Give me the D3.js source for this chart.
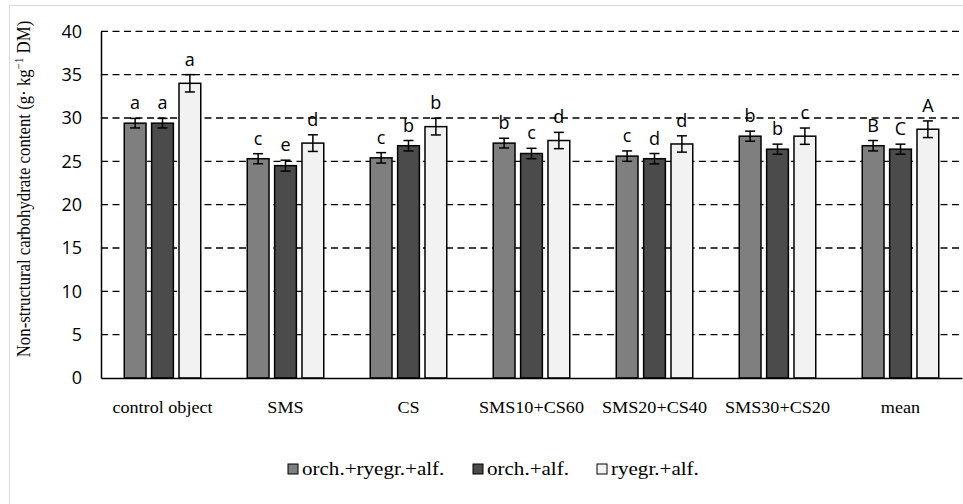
<!DOCTYPE html>
<html>
<head>
<meta charset="utf-8">
<script src="https://cdn.jsdelivr.net/npm/d3@7"></script>
<style>
  html, body { margin: 0; padding: 0; background: #fff; }
  svg { display: block; }
</style>
</head>
<body>
<svg id="chart" width="963" height="504"></svg>
<script>
// Treatments along the x axis
const categories = ["control object", "SMS", "CS", "SMS10+CS60", "SMS20+CS40", "SMS30+CS20", "mean"];
// Mixture names (legend)
const seriesNames = ["orch.+ryegr.+alf.", "orch.+alf.", "ryegr.+alf."];
// Mean non-structural carbohydrate content, g kg-1 DM
const orchRyegrAlf = [29.4, 25.3, 25.4, 27.1, 25.6, 27.9, 26.8];
const orchAlf      = [29.4, 24.5, 26.8, 25.9, 25.3, 26.4, 26.4];
const ryegrAlf     = [34.0, 27.1, 29.0, 27.4, 27.0, 27.9, 28.7];
// Error bar half-widths
const errOrchRyegrAlf = [0.55, 0.58, 0.6, 0.56, 0.6, 0.58, 0.6];
const errOrchAlf      = [0.55, 0.63, 0.6, 0.6, 0.6, 0.58, 0.58];
const errRyegrAlf     = [1.0, 0.96, 0.96, 0.94, 0.94, 0.94, 0.96];
// Significance letters
const lettersOrchRyegrAlf = ["a", "c", "c", "b", "c", "b", "B"];
const lettersOrchAlf      = ["a", "e", "b", "c", "d", "b", "C"];
const lettersRyegrAlf     = ["a", "d", "b", "d", "d", "c", "A"];
// Y axis ticks
const yTicks = [0, 5, 10, 15, 20, 25, 30, 35, 40];

const colors = ["#7f7f7f", "#4b4b4b", "#f2f2f2"];
const values = [orchRyegrAlf, orchAlf, ryegrAlf];
const errors = [errOrchRyegrAlf, errOrchAlf, errRyegrAlf];
const letters = [lettersOrchRyegrAlf, lettersOrchAlf, lettersRyegrAlf];

const svg = d3.select("#chart");

// outer chart frame
svg.append("rect")
  .attr("x", 9.5).attr("y", 5.5)
  .attr("width", 980).attr("height", 520)
  .attr("fill", "#fff").attr("stroke", "#d9d9d9").attr("stroke-width", 1);

const plot = { left: 101, right: 962, top: 31.3, bottom: 378 };

const y = d3.scaleLinear().domain([0, 40]).range([plot.bottom, plot.top]);
const x = d3.scaleBand().domain(categories)
  .range([plot.left, plot.right])
  .paddingInner(0.378).paddingOuter(0.189);
const xs = d3.scaleBand().domain(d3.range(3))
  .range([0, x.bandwidth()])
  .paddingInner(0.205).paddingOuter(0);

// dashed gridlines
svg.append("g")
  .selectAll("line")
  .data(yTicks.filter(d => d > 0))
  .join("line")
  .attr("x1", plot.left).attr("x2", plot.right)
  .attr("y1", d => y(d)).attr("y2", d => y(d))
  .attr("stroke", "#000").attr("stroke-width", 1.3)
  .attr("stroke-dasharray", "7,4.5");

// y axis line and tick labels
const yAxis = d3.axisLeft(y).tickValues(yTicks).tickSize(0).tickPadding(19);
const gy = svg.append("g").attr("transform", `translate(${plot.left},0)`).call(yAxis);
gy.select(".domain").attr("stroke", "#000").attr("stroke-width", 1.5);
gy.selectAll("text")
  .attr("font-family", "'Open Sans', sans-serif")
  .attr("font-size", 18)
  .attr("fill", "#000");

// bars
const groups = svg.append("g")
  .selectAll("g")
  .data(categories)
  .join("g")
  .attr("transform", d => `translate(${x(d)},0)`);

groups.each(function (cat, i) {
  const g = d3.select(this);
  for (let s = 0; s < 3; s++) {
    const v = values[s][i];
    const e = errors[s][i];
    const cx = xs(s) + xs.bandwidth() / 2;
    g.append("rect")
      .attr("x", xs(s)).attr("y", y(v))
      .attr("width", xs.bandwidth()).attr("height", y(0) - y(v))
      .attr("fill", colors[s]).attr("stroke", "#000").attr("stroke-width", 1.5);
    // error bar
    g.append("line")
      .attr("x1", cx).attr("x2", cx)
      .attr("y1", y(v - e)).attr("y2", y(v + e))
      .attr("stroke", "#000").attr("stroke-width", 1.5);
    [v - e, v + e].forEach(t => {
      g.append("line")
        .attr("x1", cx - 5).attr("x2", cx + 5)
        .attr("y1", y(t)).attr("y2", y(t))
        .attr("stroke", "#000").attr("stroke-width", 1.5);
    });
    g.append("text")
      .attr("x", cx).attr("y", y(v + e) - 9)
      .attr("text-anchor", "middle")
      .attr("font-family", "'Open Sans', sans-serif")
      .attr("font-size", 18)
      .attr("fill", "#000")
      .text(letters[s][i]);
  }
});

// x axis baseline
const xAxis = d3.axisBottom(x).tickSize(0).tickPadding(0);
const gx = svg.append("g").attr("transform", `translate(0,${plot.bottom})`).call(xAxis);
gx.select(".domain").attr("stroke", "#000").attr("stroke-width", 1.5);
gx.selectAll(".tick text")
  .attr("font-family", "'Liberation Serif', 'Times New Roman', serif")
  .attr("font-size", 16.5)
  .attr("fill", "#000")
  .attr("dy", 0)
  .attr("y", 0)
  .attr("transform", "translate(0,35) scale(1.1,1)");

// y axis title
const yt = svg.append("text")
  .attr("transform", "translate(30,189) scale(1.1,1) rotate(-90)")
  .attr("text-anchor", "middle")
  .attr("font-family", "'Liberation Serif', 'Times New Roman', serif")
  .attr("font-size", 16.8)
  .attr("fill", "#000");
yt.append("tspan").text("Non-structural carbohydrate content (g· kg");
yt.append("tspan").attr("font-size", 11).attr("dy", -6).text("−1");
yt.append("tspan").attr("dy", 6).text(" DM)");

// legend
const legendX = [288, 473, 597];
const legend = svg.append("g")
  .selectAll("g")
  .data(seriesNames)
  .join("g")
  .attr("transform", (d, i) => `translate(${legendX[i]},469)`);
legend.append("rect")
  .attr("x", 0).attr("y", -5).attr("width", 10).attr("height", 10)
  .attr("fill", (d, i) => colors[i]).attr("stroke", "#000").attr("stroke-width", 1);
legend.append("text")
  .attr("transform", "translate(14,6) scale(1.17,1)")
  .attr("font-family", "'Liberation Serif', 'Times New Roman', serif")
  .attr("font-size", 18)
  .attr("fill", "#000")
  .text(d => d);
</script>
</body>
</html>
